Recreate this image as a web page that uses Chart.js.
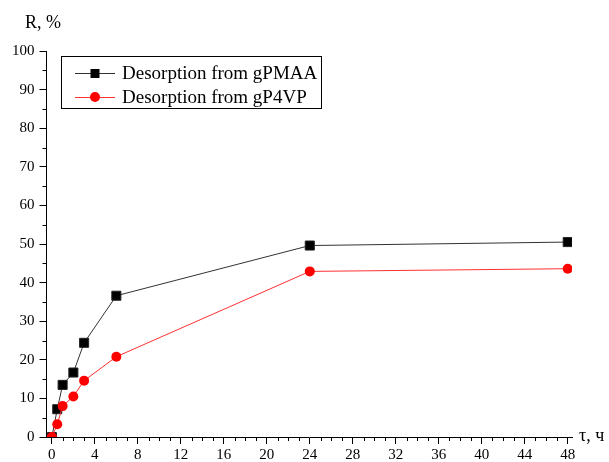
<!DOCTYPE html>
<html>
<head>
<meta charset="utf-8">
<script src="https://cdn.jsdelivr.net/npm/chart.js@4"></script>
<style>
  body { margin: 0; background: #fff; }
  canvas { display: block; }
</style>
</head>
<body>
<canvas id="chart" width="609" height="462"></canvas>
<script>
// Дані
const timeHours = [0, 0.5, 1, 2, 3, 6, 24, 48];
const gPMAA = [0, 7.2, 13.5, 16.7, 24.4, 36.6, 49.6, 50.5];
const gP4VP = [0, 3.3, 8.0, 10.5, 14.6, 20.8, 42.9, 43.6];
const xTicks = [0, 4, 8, 12, 16, 20, 24, 28, 32, 36, 40, 44, 48];
const yTicks = [0, 10, 20, 30, 40, 50, 60, 70, 80, 90, 100];
const seriesLabels = ['Desorption from gPMAA', 'Desorption from gP4VP'];

const FONT = "'Liberation Serif', 'Times New Roman', serif";

// Малі поділки + підписи осей + легенда
const decorPlugin = {
    id: 'decor',
    afterDraw(chart) {
        const ctx = chart.ctx;
        const xs = chart.scales.x;
        const ys = chart.scales.y;
        const area = chart.chartArea;
        ctx.save();
        ctx.strokeStyle = '#000';
        ctx.lineWidth = 1;
        ctx.beginPath();
        for (let v = 0; v <= 48; v++) {
            if (v % 4 === 0) continue;
            const px = Math.round(xs.getPixelForValue(v)) + 0.5;
            ctx.moveTo(px, area.bottom);
            ctx.lineTo(px, area.bottom + 4);
        }
        for (let v = 5; v < 100; v += 10) {
            const py = Math.round(ys.getPixelForValue(v)) + 0.5;
            ctx.moveTo(area.left, py);
            ctx.lineTo(area.left - 4, py);
        }
        ctx.stroke();

        // назви осей
        ctx.fillStyle = '#000';
        ctx.font = '18px ' + FONT;
        ctx.textBaseline = 'middle';
        ctx.textAlign = 'left';
        ctx.fillText('R, %', 25, 23);
        ctx.fillText('τ, ч', 579, 436);

        // легенда
        ctx.strokeRect(61.5, 56.5, 260, 52);
        const rows = [
            { y: 73, color: '#000', line: '#333', style: 'rect' },
            { y: 97, color: '#ff0000', line: '#ff3030', style: 'circle' }
        ];
        ctx.font = '19px ' + FONT;
        rows.forEach((r, i) => {
            ctx.strokeStyle = r.line;
            ctx.beginPath();
            ctx.moveTo(75, r.y + 0.5);
            ctx.lineTo(115, r.y + 0.5);
            ctx.stroke();
            ctx.fillStyle = r.color;
            if (r.style === 'rect') {
                ctx.fillRect(90.5, r.y - 4, 9, 9);
            } else {
                ctx.beginPath();
                ctx.arc(95, r.y, 5, 0, Math.PI * 2);
                ctx.fill();
            }
            ctx.fillStyle = '#000';
            ctx.fillText(seriesLabels[i], 122, r.y + 1);
        });
        ctx.restore();
    }
};

const ctx = document.getElementById('chart').getContext('2d');
new Chart(ctx, {
    type: 'line',
    data: {
        labels: timeHours,
        datasets: [{
            label: seriesLabels[0],
            data: timeHours.map((t, i) => ({ x: t, y: gPMAA[i] })),
            borderColor: '#333',
            backgroundColor: '#000',
            pointBackgroundColor: '#000',
            pointBorderColor: '#222',
            pointBorderWidth: 1,
            borderWidth: 1,
            pointStyle: 'rect',
            pointRadius: 6.4,
            tension: 0,
            order: 1
        }, {
            label: seriesLabels[1],
            data: timeHours.map((t, i) => ({ x: t, y: gP4VP[i] })),
            borderColor: '#ff3030',
            backgroundColor: '#ff0000',
            pointBackgroundColor: '#ff0000',
            pointBorderColor: '#ff0000',
            pointBorderWidth: 0,
            borderWidth: 1,
            pointStyle: 'circle',
            pointRadius: 5,
            tension: 0,
            order: 0
        }]
    },
    options: {
        responsive: false,
        animation: false,
        layout: { padding: { top: 51, right: 37, left: 0, bottom: 0 } },
        plugins: {
            legend: { display: false },
            tooltip: { enabled: false }
        },
        scales: {
            x: {
                type: 'linear',
                min: -0.5,
                max: 48.4,
                afterBuildTicks: s => { s.ticks = xTicks.map(v => ({ value: v })); },
                afterFit: s => { s.height = 25; },
                grid: { drawOnChartArea: false, drawTicks: true, tickLength: 7, color: '#000' },
                border: { display: true, color: '#000', width: 1 },
                ticks: {
                    padding: 2,
                    color: '#000',
                    font: { family: FONT, size: 15 },
                    maxRotation: 0
                }
            },
            y: {
                min: 0,
                max: 100,
                afterBuildTicks: s => { s.ticks = yTicks.map(v => ({ value: v })); },
                afterFit: s => { s.width = 46.5; },
                grid: { drawOnChartArea: false, drawTicks: true, tickLength: 7, color: '#000' },
                border: { display: true, color: '#000', width: 1 },
                ticks: {
                    padding: 5,
                    color: '#000',
                    font: { family: FONT, size: 15 }
                }
            }
        }
    },
    plugins: [decorPlugin]
});
</script>
</body>
</html>
